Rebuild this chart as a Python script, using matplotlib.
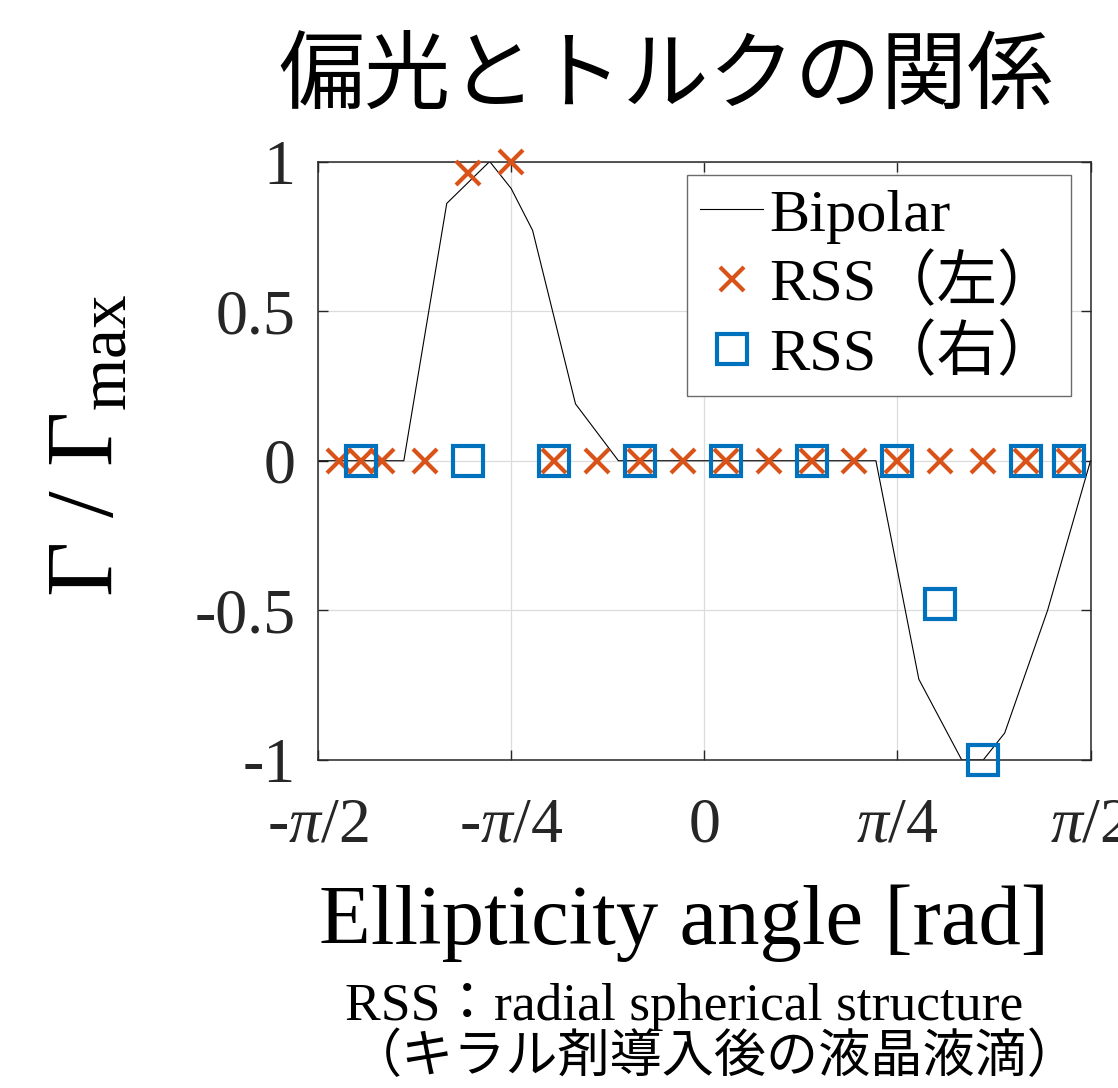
import numpy as np
import matplotlib
matplotlib.use("Agg")
import matplotlib.pyplot as plt
from matplotlib.font_manager import FontProperties

# ---- data (angles in degrees, torque normalised by its maximum) ----
bipolar_deg = [-90, -70, -60, -50, -45, -40, -30, -20, 40, 50, 60, 65, 70, 80, 90]
bipolar_val = [0, 0, 0.86, 1.0, 0.91, 0.77, 0.19, 0, 0, -0.73, -1.0, -1.0, -0.91, -0.5, 0]

rss_left_deg = [-85, -80, -75, -65, -55, -45, -35, -25, -15, -5,
                5, 15, 25, 35, 45, 55, 65, 75, 85]
rss_left_val = [0, 0, 0, 0, 0.96, 1.0, 0, 0, 0, 0,
                0, 0, 0, 0, 0, 0, 0, 0, 0]

rss_right_deg = [-80, -55, -35, -15, 5, 25, 45, 55, 65, 75, 85]
rss_right_val = [0, 0, 0, 0, 0, 0, 0, -0.48, -1.0, 0, 0]

xtick_vals = [-np.pi / 2, -np.pi / 4, 0, np.pi / 4, np.pi / 2]
xtick_labels = [r"-$\pi$/2", r"-$\pi$/4", "0", r"$\pi$/4", r"$\pi$/2"]
ytick_vals = [-1, -0.5, 0, 0.5, 1]
ytick_labels = ["-1", "-0.5", "0", "0.5", "1"]

legend_labels = ["Bipolar", "RSS（左）", "RSS（右）"]

# ---- style ----
plt.rcParams["font.family"] = ["Liberation Serif", "Noto Sans CJK JP"]
plt.rcParams["mathtext.fontset"] = "custom"
plt.rcParams["mathtext.rm"] = "Liberation Serif"
plt.rcParams["mathtext.it"] = "Liberation Serif:italic"
plt.rcParams["mathtext.bf"] = "Liberation Serif:bold"

W, H = 1118, 1088
fig = plt.figure(figsize=(W / 100, H / 100), dpi=100)

ax_l, ax_r, ax_t, ax_b = 318, 1090.5, 161.5, 760
ax = fig.add_axes([ax_l / W, 1 - ax_b / H, (ax_r - ax_l) / W, (ax_b - ax_t) / H])

orange = "#D95319"
blue = "#0072BD"
frame = "#262626"

h_line, = ax.plot(np.deg2rad(bipolar_deg), bipolar_val, color="black", lw=0.8,
                  zorder=2)
h_left, = ax.plot(np.deg2rad(rss_left_deg), rss_left_val, linestyle="none",
                  marker="x", markersize=17, markeredgewidth=3.0,
                  color=orange, clip_on=False, zorder=3)
h_right, = ax.plot(np.deg2rad(rss_right_deg), rss_right_val, linestyle="none",
                   marker="s", markersize=22, markeredgewidth=3.0,
                   markerfacecolor="none", markeredgecolor=blue,
                   clip_on=False, zorder=4)

ax.set_xlim(-np.pi / 2, np.pi / 2)
ax.set_ylim(-1, 1)
ax.set_xticks(xtick_vals)
ax.set_xticklabels(xtick_labels)
ax.set_yticks(ytick_vals)
ax.set_yticklabels(ytick_labels)

ax.tick_params(direction="in", length=7, width=1.0, colors=frame,
               labelsize=46, top=True, right=True)
ax.tick_params(axis="x", pad=27)
ax.tick_params(axis="y", pad=16)
for lab in ax.get_xticklabels() + ax.get_yticklabels():
    lab.set_color(frame)

ax.grid(True, color="#dcdcdc", lw=0.9)
ax.set_axisbelow(True)
for s in ax.spines.values():
    s.set_color(frame)
    s.set_linewidth(1.1)

leg = ax.legend([h_line, h_left, h_right], legend_labels,
                loc="upper right", bbox_to_anchor=(0.9748, 0.9774),
                borderaxespad=0, fancybox=False, framealpha=1,
                edgecolor="#6b6b6b", handlelength=1.05, handletextpad=0.1,
                labelspacing=0.2, borderpad=0.22,
                prop=FontProperties(family=["Liberation Serif", "Noto Sans CJK JP"],
                                    size=43.5))
leg.get_frame().set_linewidth(1.0)
for t in leg.get_texts():
    t.set_color("black")

# ---- titles and labels ----
fig.text(666 / W, 1 - 78 / H, "偏光とトルクの関係", ha="center", va="center",
         fontsize=62, family=["Noto Sans CJK JP"], color="black")

fig.text(684 / W, 1 - 923 / H, "Ellipticity angle [rad]", ha="center",
         va="center", fontsize=61, color="black")

fig.text(90 / W, 1 - 446 / H, r"$\Gamma$ / $\Gamma_{\mathrm{max}}$",
         ha="center", va="center", rotation=90, fontsize=69, color="black")

fig.text(684 / W, 1 - 1007 / H, "RSS：radial spherical structure",
         ha="center", va="center", fontsize=38.5, color="black",
         family=["Liberation Serif", "Noto Sans CJK JP"])
fig.text(715 / W, 1 - 1057 / H, "（キラル剤導入後の液晶液滴）",
         ha="center", va="center", fontsize=37.5, color="black",
         family=["Noto Sans CJK JP"])

fig.savefig("out.png", dpi=100)
